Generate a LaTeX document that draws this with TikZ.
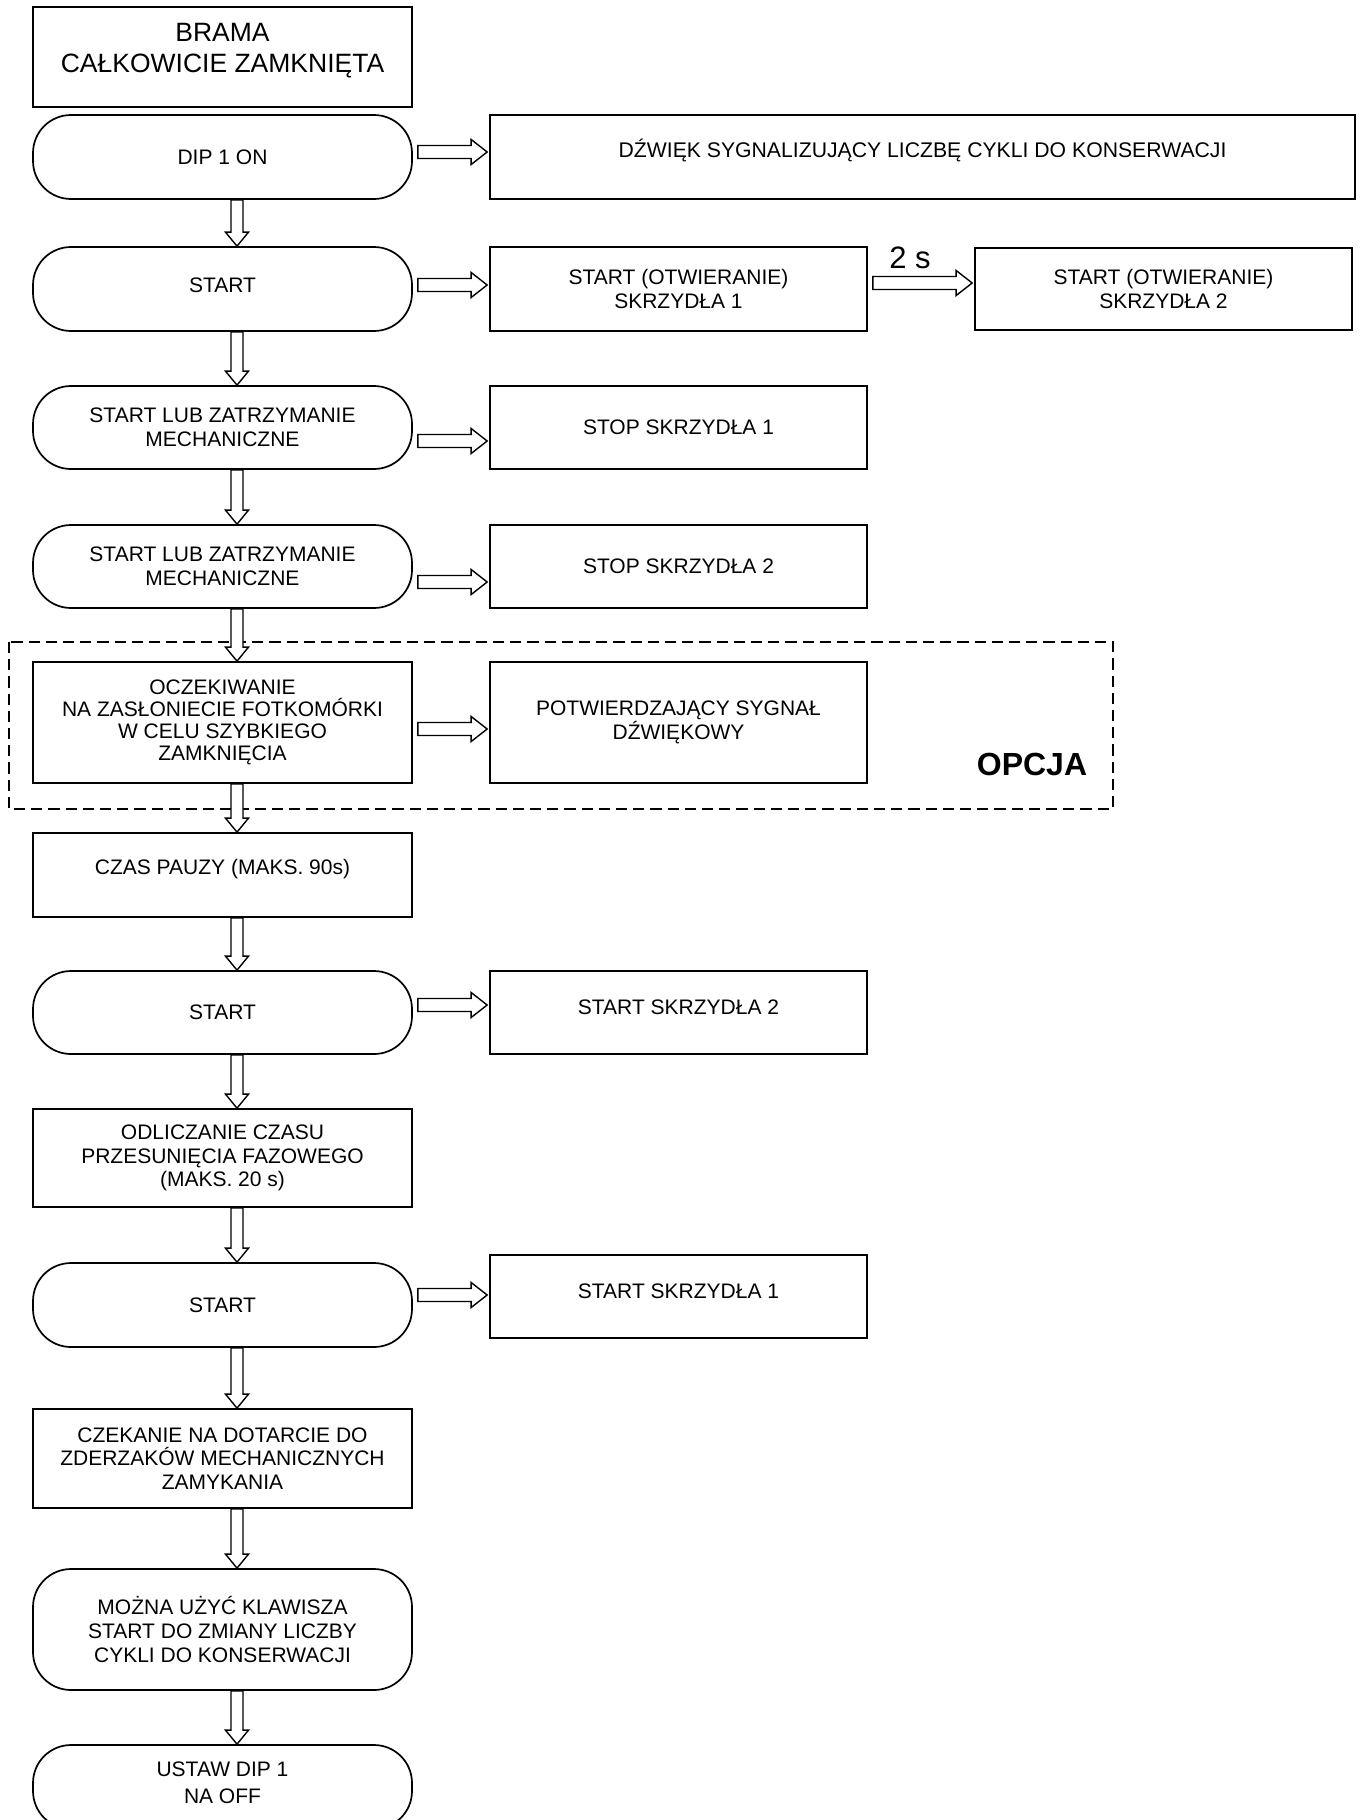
\documentclass[tikz,border=0pt]{standalone}
\usepackage{fontspec}
\setmainfont{Liberation Sans}
\usetikzlibrary{calc}

\tikzset{
  boxtext/.style={align=center, font=\fontsize{10.5}{11.8}\selectfont},
  box/.style={draw, line width=0.85pt, minimum width=189.5pt, minimum height=42pt, inner sep=2pt, boxtext},
  roundbox/.style={box, rounded corners=19pt},
  sidebox/.style={box, minimum width=188.5pt},
  flowline/.style={draw, line width=0.7pt, fill=white, line join=miter},
  optframe/.style={line width=1pt, dash pattern=on 5.6pt off 3pt},
}

% hollow block arrows between named boxes
\newcommand{\flowdown}[2]{%
  \draw[flowline] let \p1=($(#1.south)+(14.5,0)$), \p2=(#2.north) in
    (\x1-3pt,\y1) -- (\x1-3pt,\y2+7pt) -- (\x1-5.75pt,\y2+7pt) -- (\x1,\y2)
    -- (\x1+5.75pt,\y2+7pt) -- (\x1+3pt,\y2+7pt) -- (\x1+3pt,\y1) -- cycle;}
\newcommand{\flowright}[3]{%
  \draw[flowline] let \p1=(#1.east), \p2=(#2.west), \p3=(0,#3) in
    (\x1+2.5pt,\y3+3.25pt) -- (\x2-9pt,\y3+3.25pt) -- (\x2-9pt,\y3+6.25pt) -- (\x2-1pt,\y3)
    -- (\x2-9pt,\y3-6.25pt) -- (\x2-9pt,\y3-3.25pt) -- (\x1+2.5pt,\y3-3.25pt) -- cycle;}

\begin{document}
\begin{tikzpicture}[x=0.5pt,y=-0.5pt]
\useasboundingbox (0,0) rectangle (1361,1820);

\draw[optframe] (9,642) rectangle (1113,809);
\node[font=\bfseries\fontsize{16}{16}\selectfont] (opt) at (1032,764) {OPCJA};

\node[box, minimum height=50pt, label={[boxtext, font=\fontsize{13.25}{15.5}\selectfont, yshift=3pt]center:BRAMA\\CAŁKOWICIE ZAMKNIĘTA}] (title) at (222.5,57) {};
\node[roundbox] (dipon) at (222.5,157) {DIP 1 ON};
\node[box, minimum width=432.5pt, label={[boxtext, font=\fontsize{10.6}{11.8}\selectfont, yshift=3pt]center:DŹWIĘK SYGNALIZUJĄCY LICZBĘ CYKLI DO KONSERWACJI}] (sound) at (922.5,157) {};

\node[roundbox, label={[boxtext, yshift=2pt]center:START}] (start) at (222.5,289) {};
\node[sidebox] (open1) at (678.5,289) {START (OTWIERANIE)\\SKRZYDŁA 1};
\node[sidebox, minimum height=41pt] (open2) at (1163.5,289) {START (OTWIERANIE)\\SKRZYDŁA 2};
\node[font=\fontsize{15.5}{15.5}\selectfont] (delay) at (910,258) {2 s};

\node[roundbox, minimum height=41.5pt] (lub1) at (222.5,427.5) {START LUB ZATRZYMANIE\\MECHANICZNE};
\node[sidebox, minimum height=41.5pt] (stop1) at (678.5,427.5) {STOP SKRZYDŁA 1};
\node[roundbox, minimum height=41.5pt] (lub2) at (222.5,566.5) {START LUB ZATRZYMANIE\\MECHANICZNE};
\node[sidebox, minimum height=41.5pt] (stop2) at (678.5,566.5) {STOP SKRZYDŁA 2};

\node[box, minimum height=60.5pt, font=\fontsize{10.5}{11}\selectfont] (wait) at (222.5,722.5) {OCZEKIWANIE\\NA ZASŁONIECIE FOTKOMÓRKI\\W CELU SZYBKIEGO\\ZAMKNIĘCIA};
\node[sidebox, minimum height=60.5pt] (beep) at (678.5,722.5) {POTWIERDZAJĄCY SYGNAŁ\\DŹWIĘKOWY};

\node[box, label={[boxtext, yshift=3pt]center:CZAS PAUZY (MAKS. 90s)}] (pause) at (222.5,875) {};
\node[roundbox, minimum height=41.5pt] (start2) at (222.5,1012.5) {START};
\node[sidebox, minimum height=41.5pt, label={[boxtext, yshift=2.5pt]center:START SKRZYDŁA 2}] (go2) at (678.5,1012.5) {};

\node[box, minimum height=49pt] (phase) at (222.5,1158) {ODLICZANIE CZASU\\PRZESUNIĘCIA FAZOWEGO\\(MAKS. 20 s)};
\node[roundbox] (start3) at (222.5,1305) {START};
\node[sidebox, minimum height=41.5pt, label={[boxtext, yshift=2.5pt]center:START SKRZYDŁA 1}] (go1) at (678.5,1296.5) {};

\node[box, minimum height=49.5pt] (stops) at (222.5,1458.5) {CZEKANIE NA DOTARCIE DO\\ZDERZAKÓW MECHANICZNYCH\\ZAMYKANIA};
\node[roundbox, minimum height=60.5pt] (change) at (222.5,1629.5) {MOŻNA UŻYĆ KLAWISZA\\START DO ZMIANY LICZBY\\CYKLI DO KONSERWACJI};
\node[roundbox, label={[boxtext, font=\fontsize{10.5}{13.3}\selectfont, yshift=2pt]center:USTAW DIP 1\\NA OFF}] (dipoff) at (222.5,1787) {};

\flowdown{dipon}{start}
\flowdown{start}{lub1}
\flowdown{lub1}{lub2}
\flowdown{lub2}{wait}
\flowdown{wait}{pause}
\flowdown{pause}{start2}
\flowdown{start2}{phase}
\flowdown{phase}{start3}
\flowdown{start3}{stops}
\flowdown{stops}{change}
\flowdown{change}{dipoff}

\flowright{dipon}{sound}{152}
\flowright{start}{open1}{285}
\flowright{open1}{open2}{283}
\flowright{lub1}{stop1}{441}
\flowright{lub2}{stop2}{582}
\flowright{wait}{beep}{729}
\flowright{start2}{go2}{1005}
\flowright{start3}{go1}{1295}
\end{tikzpicture}
\end{document}
